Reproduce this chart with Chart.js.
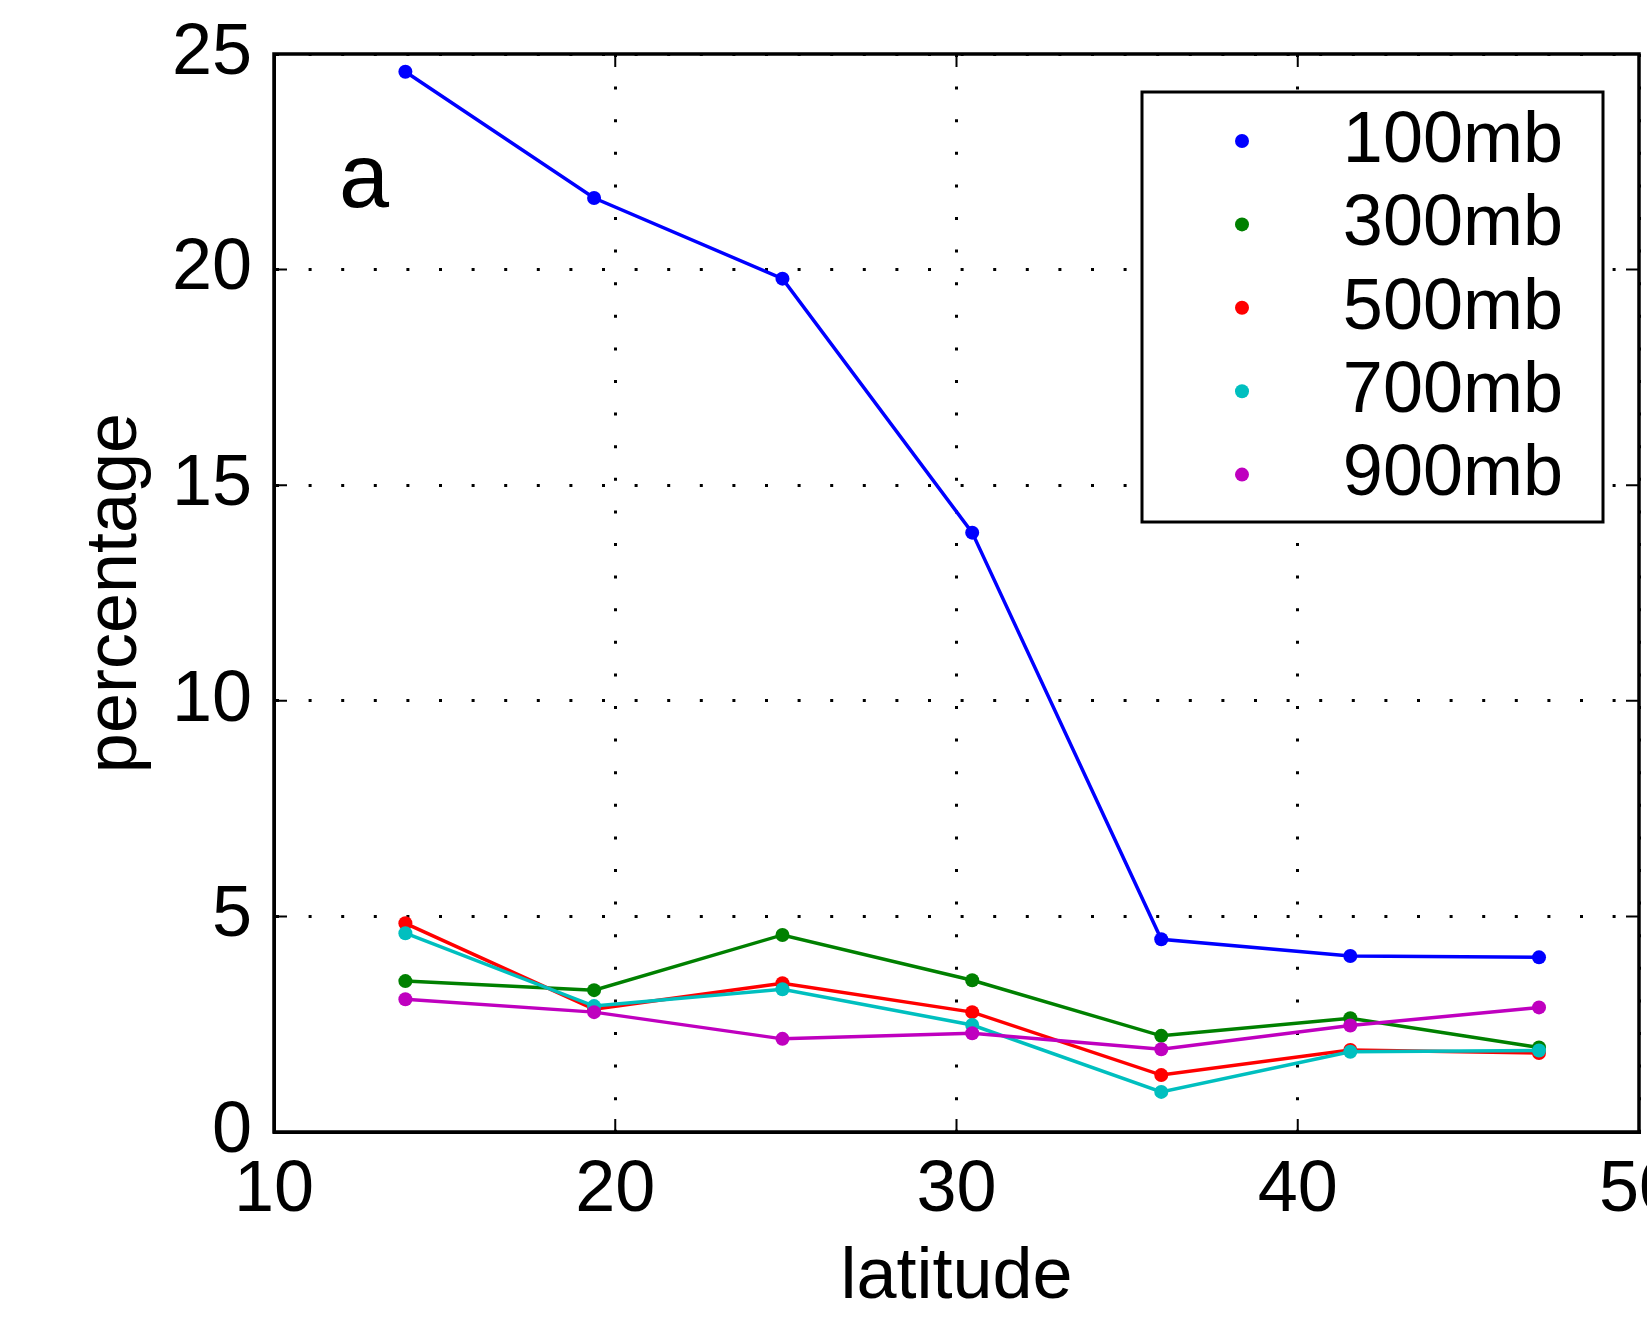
<!DOCTYPE html>
<html>
<head>
<meta charset="utf-8">
<script src="https://cdn.jsdelivr.net/npm/chart.js@4.4.1/dist/chart.umd.min.js"></script>
<style>
	html, body { margin: 0; padding: 0; background: #fff; overflow: hidden; }
	#wrap { width: 1647px; height: 1321px; }
</style>
</head>
<body>
<div id="wrap"><canvas id="latChart" width="1647" height="1321"></canvas></div>
<script>
// values
const latitudes = [13.85, 19.38, 24.9, 30.46, 36.0, 41.54, 47.07];
const levels = ['100mb', '300mb', '500mb', '700mb', '900mb'];
const levelColours = ['#0000ff', '#008000', '#ff0000', '#00bfbf', '#bf00bf'];
const pct100 = [24.59, 21.66, 19.79, 13.9, 4.47, 4.08, 4.05];
const pct300 = [3.5, 3.29, 4.57, 3.52, 2.23, 2.64, 1.96];
const pct500 = [4.84, 2.85, 3.45, 2.78, 1.32, 1.9, 1.83];
const pct700 = [4.61, 2.92, 3.31, 2.48, 0.93, 1.86, 1.89];
const pct900 = [3.08, 2.78, 2.16, 2.29, 1.92, 2.47, 2.89];
const xTicks = [10, 20, 30, 40, 50];
const yTicks = [0, 5, 10, 15, 20, 25];
const panelLabel = 'a';

const FONT = "'Liberation Sans', Arial, Helvetica, sans-serif";
Chart.defaults.font.family = FONT;
Chart.defaults.color = '#000';

const series = [pct100, pct300, pct500, pct700, pct900];

const datasets = series.map((vals, i) => ({
	label: levels[i],
	data: vals.map((v, j) => ({ x: latitudes[j], y: v })),
	borderColor: levelColours[i],
	backgroundColor: levelColours[i],
	pointBackgroundColor: levelColours[i],
	pointBorderWidth: 0,
	pointRadius: 7,
	borderWidth: 3.5,
	tension: 0,
	order: series.length - i	// later levels on top, like the original
}));

// box round the axes plus short inward tick marks (matlab look)
const framePlugin = {
	id: 'frame',
	afterDatasetsDraw(chart) {
		const { ctx, chartArea: a, scales } = chart;
		const tl = 13;
		ctx.save();
		ctx.strokeStyle = '#000';
		ctx.lineWidth = 2;
		ctx.beginPath();
		xTicks.forEach(t => {
			const px = scales.x.getPixelForValue(t);
			ctx.moveTo(px, a.bottom); ctx.lineTo(px, a.bottom - tl);
			ctx.moveTo(px, a.top); ctx.lineTo(px, a.top + tl);
		});
		yTicks.forEach(t => {
			const py = scales.y.getPixelForValue(t);
			ctx.moveTo(a.left, py); ctx.lineTo(a.left + tl, py);
			ctx.moveTo(a.right, py); ctx.lineTo(a.right - tl, py);
		});
		ctx.stroke();
		ctx.lineWidth = 3.5;
		ctx.strokeRect(a.left, a.top, a.right - a.left, a.bottom - a.top);
		ctx.restore();
	}
};

// boxed legend in the upper right + the panel letter
const legendBoxPlugin = {
	id: 'legendBox',
	afterDraw(chart) {
		const { ctx } = chart;
		const box = { left: 1142, top: 92, right: 1603, bottom: 522 };
		const rowTop = 141, rowGap = 83.4;
		ctx.save();
		ctx.fillStyle = '#fff';
		ctx.fillRect(box.left, box.top, box.right - box.left, box.bottom - box.top);
		ctx.strokeStyle = '#000';
		ctx.lineWidth = 3;
		ctx.strokeRect(box.left, box.top, box.right - box.left, box.bottom - box.top);
		ctx.font = '72px ' + FONT;
		ctx.textAlign = 'right';
		ctx.textBaseline = 'middle';
		chart.data.datasets.forEach((ds, i) => {
			const y = rowTop + i * rowGap;
			ctx.fillStyle = ds.borderColor;
			ctx.beginPath();
			ctx.arc(1242, y, 7, 0, Math.PI * 2);
			ctx.fill();
			ctx.fillStyle = '#000';
			ctx.fillText(ds.label, 1563, y + 1);
		});
		ctx.font = '90px ' + FONT;
		ctx.textAlign = 'left';
		ctx.textBaseline = 'alphabetic';
		ctx.fillText(panelLabel, 339, 207);
		ctx.restore();
	}
};

const gridStyle = {
	color: '#000',
	lineWidth: 3,
	drawTicks: false
};

const ctx = document.getElementById('latChart').getContext('2d');
const latChart = new Chart(ctx, {
	type: 'line',
	data: { datasets },
	options: {
		responsive: false,
		animation: false,
		devicePixelRatio: 1,
		layout: { padding: { top: 54, right: 8, bottom: 0, left: 0 } },
		plugins: {
			legend: { display: false },
			tooltip: { enabled: false }
		},
		scales: {
			x: {
				type: 'linear',
				min: 10,
				max: 50,
				ticks: { stepSize: 10, padding: 16, font: { size: 72 }, color: '#000' },
				grid: gridStyle,
				border: { display: true, color: '#000', width: 3, dash: [3, 29.6] },
				title: { display: true, text: 'latitude', font: { size: 72 }, color: '#000', padding: { top: 0, bottom: 0 } },
				afterFit(scale) {
					scale.height = 189;
					scale.paddingRight = 0;
					scale.paddingLeft = 0;
				}
			},
			y: {
				type: 'linear',
				min: 0,
				max: 25,
				ticks: { stepSize: 5, padding: 22, font: { size: 72 }, color: '#000' },
				grid: gridStyle,
				border: { display: true, color: '#000', width: 3, dash: [3, 29.6] },
				title: { display: true, text: 'percentage', font: { size: 72 }, color: '#000', padding: { top: 73, bottom: 0 } },
				afterFit(scale) {
					scale.width = 274;
					scale.paddingTop = 0;
					scale.paddingBottom = 0;
				}
			}
		}
	},
	plugins: [framePlugin, legendBoxPlugin]
});
</script>
</body>
</html>
